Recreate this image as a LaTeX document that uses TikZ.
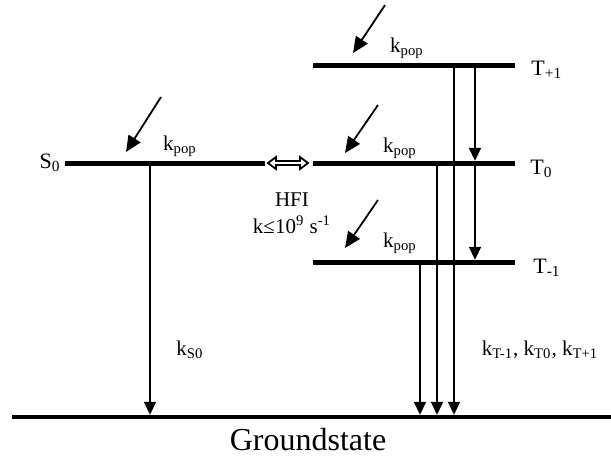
\documentclass[tikz,border=0pt]{standalone}
\usepackage{fontspec}
\setmainfont{Liberation Serif}
\usetikzlibrary{arrows.meta}

\begin{document}
\begin{tikzpicture}[x=0.5pt,y=-0.5pt,
  level/.style={line width=2.5pt},
  ground/.style={line width=2.2pt},
  decay/.style={-{Triangle[length=6.5pt,width=6pt]},line width=0.9pt,shorten >=1.1pt,shorten <=1.1pt},
  pop/.style={-{Triangle[length=8pt,width=7pt]},line width=0.9pt},
  lbl/.style={inner sep=0pt,font=\fontsize{10.5}{12}\selectfont},
  poplbl/.style={inner sep=0pt,anchor=base,font=\fontsize{10.5}{12}\selectfont},
  big/.style={inner sep=0pt,font=\fontsize{16}{19}\selectfont},
  hfiarrow/.style={draw,fill=white,line width=0.9pt,line join=miter}
]
\useasboundingbox (0,0) rectangle (611,457);

% Levels
\coordinate (s0w) at (65,163);
\coordinate (s0e) at (265,163);
\coordinate (tpw) at (313,65);
\coordinate (tpe) at (515,65);
\coordinate (tzw) at (313,163);
\coordinate (tze) at (515,163);
\coordinate (tmw) at (313,262);
\coordinate (tme) at (515,262);
\coordinate (gw) at (12,417);
\coordinate (ge) at (611,417);

\draw[level] (s0w) -- (s0e);
\draw[level] (tpw) -- (tpe);
\draw[level] (tzw) -- (tze);
\draw[level] (tmw) -- (tme);
\draw[ground] (gw) -- (ge);

% Level labels
\node[lbl,anchor=base east,font=\fontsize{11}{13}\selectfont] (s0lab) at (61,168) {S\textsubscript{0}};
\node[lbl,anchor=base west,font=\fontsize{11}{13}\selectfont] (tplab) at (531,75) {T\textsubscript{+1}};
\node[lbl,anchor=base west,font=\fontsize{11}{13}\selectfont] (tzlab) at (530,174) {T\textsubscript{0}};
\node[lbl,anchor=base west,font=\fontsize{11}{13}\selectfont] (tmlab) at (533,273) {T\textsubscript{-1}};
\node[big,anchor=base] (gslab) at (308,450) {Groundstate};

% HFI mixing
\coordinate (hfi) at (288,163);
\draw[hfiarrow] ([xshift=-10pt]hfi) -- ++(8,-6) -- ++(0,4) -- ++(24,0) -- ++(0,-4)
  -- ([xshift=10pt]hfi) -- ++(-8,6) -- ++(0,-4) -- ++(-24,0) -- ++(0,4) -- cycle;
\node[lbl,anchor=base] (hfilab) at (292,206) {HFI};
\node[lbl,anchor=base] (hfirate) at (292,233) {k≤10\textsuperscript{9} s\textsuperscript{-1}};

% Population
\coordinate (pops) at (161,97);
\coordinate (popse) at (126,152);
\coordinate (popp) at (385,5);
\coordinate (poppe) at (353,53);
\coordinate (popz) at (378,105);
\coordinate (popze) at (345,153);
\coordinate (popm) at (378,200);
\coordinate (popme) at (345,248);
\draw[pop] (pops) -- (popse);
\draw[pop] (popp) -- (poppe);
\draw[pop] (popz) -- (popze);
\draw[pop] (popm) -- (popme);
\node[poplbl] (kpops) at (180,150) {k\textsubscript{pop}};
\node[poplbl] (kpopp) at (407,52) {k\textsubscript{pop}};
\node[poplbl] (kpopz) at (400,152) {k\textsubscript{pop}};
\node[poplbl] (kpopm) at (400,247) {k\textsubscript{pop}};

% Decays
\coordinate (ds) at (150,163);
\coordinate (dp) at (454,65);
\coordinate (dz) at (437,163);
\coordinate (dm) at (420,262);
\coordinate (cp) at (475,65);
\coordinate (cz) at (475,163);
\draw[decay] (ds) -- (ds |- gw);
\draw[decay] (dp) -- (dp |- gw);
\draw[decay] (dz) -- (dz |- gw);
\draw[decay] (dm) -- (dm |- gw);
\draw[decay] (cp) -- (cz);
\draw[decay] (cz) -- (cz |- tmw);
\node[lbl,anchor=base] (ks0) at (190,355) {k\textsubscript{S0}};
\node[lbl,anchor=base] (kt) at (540,355) {k\textsubscript{T-1}, k\textsubscript{T0}, k\textsubscript{T+1}};

\end{tikzpicture}
\end{document}
